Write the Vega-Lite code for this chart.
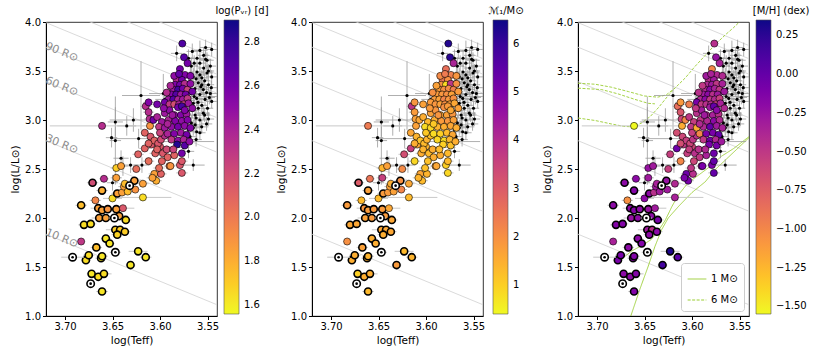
{
"$schema":"https://vega.github.io/schema/vega-lite/v6.json",
"padding":{"left":10,"top":5,"right":2,"bottom":5},
"config":{"font":"DejaVu Sans","view":{"stroke":"black","strokeWidth":0.8},
 "axis":{"grid":false,"domainColor":"black","tickColor":"black","tickSize":3.5,"labelFontSize":10,"titleFontSize":10.5,"titleFontWeight":"normal","labelColor":"black","titleColor":"black","labelPadding":2,"titlePadding":4},
 "legend":{"labelFontSize":10,"titleFontSize":10,"titleFontWeight":"normal","titleColor":"black","labelColor":"black","offset":0,"padding":0}},
"datasets":{
"rad":[
{"r":10,"t":3.72,"l":1.8348},{"r":10,"t":3.54,"l":1.1148},
{"r":30,"t":3.72,"l":2.789},{"r":30,"t":3.54,"l":2.069},
{"r":60,"t":3.72,"l":3.3911},{"r":60,"t":3.54,"l":2.6711},
{"r":90,"t":3.72,"l":3.7433},{"r":90,"t":3.54,"l":3.0233},
{"r":120,"t":3.72,"l":3.9932},{"r":120,"t":3.54,"l":3.2732},
{"r":150,"t":3.72,"l":4.187},{"r":150,"t":3.54,"l":3.467},
{"r":180,"t":3.72,"l":4.3453},{"r":180,"t":3.54,"l":3.6253},
{"r":210,"t":3.72,"l":4.4792},{"r":210,"t":3.54,"l":3.7592}],
"lab":[{"txt":"90 R⊙","t":3.7035,"l":3.69},{"txt":"60 R⊙","t":3.7035,"l":3.34},{"txt":"30 R⊙","t":3.7035,"l":2.75},{"txt":"10 R⊙","t":3.7035,"l":1.79}],
"sun":[{"t":3.692,"l":1.60,"et":0.012,"el":0.02},{"t":3.673,"l":1.33,"et":0.004,"el":0.02},{"t":3.648,"l":2.00,"et":0.006,"el":0.02},{"t":3.647,"l":1.65,"et":0.006,"el":0.02},{"t":3.632,"l":2.33,"et":0.005,"el":0.02}],
"trk":[
{"k":"1 M⊙","s":"a","o":1,"t":3.6644,"l":1.0},{"k":"1 M⊙","s":"a","o":2,"t":3.655,"l":1.27},{"k":"1 M⊙","s":"a","o":3,"t":3.646,"l":1.51},{"k":"1 M⊙","s":"a","o":4,"t":3.639,"l":1.71},{"k":"1 M⊙","s":"a","o":5,"t":3.632,"l":1.88},{"k":"1 M⊙","s":"a","o":6,"t":3.625,"l":2.0},{"k":"1 M⊙","s":"a","o":7,"t":3.614,"l":2.12},{"k":"1 M⊙","s":"a","o":8,"t":3.600,"l":2.26},{"k":"1 M⊙","s":"a","o":9,"t":3.586,"l":2.37},{"k":"1 M⊙","s":"a","o":10,"t":3.576,"l":2.49},{"k":"1 M⊙","s":"a","o":11,"t":3.565,"l":2.59},{"k":"1 M⊙","s":"a","o":12,"t":3.553,"l":2.70},{"k":"1 M⊙","s":"a","o":13,"t":3.540,"l":2.82},
{"k":"1 M⊙","s":"b","o":1,"t":3.673,"l":1.59},{"k":"1 M⊙","s":"b","o":2,"t":3.664,"l":1.66},{"k":"1 M⊙","s":"b","o":3,"t":3.651,"l":1.73},{"k":"1 M⊙","s":"b","o":4,"t":3.643,"l":1.78},{"k":"1 M⊙","s":"b","o":5,"t":3.636,"l":1.86},{"k":"1 M⊙","s":"b","o":6,"t":3.628,"l":1.98},{"k":"1 M⊙","s":"b","o":7,"t":3.621,"l":2.12},{"k":"1 M⊙","s":"b","o":8,"t":3.614,"l":2.24},{"k":"1 M⊙","s":"b","o":9,"t":3.604,"l":2.36},{"k":"1 M⊙","s":"b","o":10,"t":3.590,"l":2.46},{"k":"1 M⊙","s":"b","o":11,"t":3.579,"l":2.54},{"k":"1 M⊙","s":"b","o":12,"t":3.569,"l":2.63},{"k":"1 M⊙","s":"b","o":13,"t":3.556,"l":2.71},{"k":"1 M⊙","s":"b","o":14,"t":3.540,"l":2.83},
{"k":"6 M⊙","s":"c","o":1,"t":3.72,"l":3.375},{"k":"6 M⊙","s":"c","o":2,"t":3.702,"l":3.365},{"k":"6 M⊙","s":"c","o":3,"t":3.685,"l":3.335},{"k":"6 M⊙","s":"c","o":4,"t":3.667,"l":3.29},{"k":"6 M⊙","s":"c","o":5,"t":3.650,"l":3.245},{"k":"6 M⊙","s":"c","o":6,"t":3.636,"l":3.233},{"k":"6 M⊙","s":"c","o":7,"t":3.627,"l":3.257},{"k":"6 M⊙","s":"c","o":8,"t":3.618,"l":3.325},{"k":"6 M⊙","s":"c","o":9,"t":3.607,"l":3.43},{"k":"6 M⊙","s":"c","o":10,"t":3.597,"l":3.545},{"k":"6 M⊙","s":"c","o":11,"t":3.586,"l":3.66},{"k":"6 M⊙","s":"c","o":12,"t":3.576,"l":3.766},{"k":"6 M⊙","s":"c","o":13,"t":3.565,"l":3.868},{"k":"6 M⊙","s":"c","o":14,"t":3.556,"l":3.945},{"k":"6 M⊙","s":"c","o":15,"t":3.549,"l":4.01},
{"k":"6 M⊙","s":"d","o":1,"t":3.72,"l":3.325},{"k":"6 M⊙","s":"d","o":2,"t":3.695,"l":3.31},{"k":"6 M⊙","s":"d","o":3,"t":3.678,"l":3.267},{"k":"6 M⊙","s":"d","o":4,"t":3.660,"l":3.21},{"k":"6 M⊙","s":"d","o":5,"t":3.646,"l":3.17},{"k":"6 M⊙","s":"d","o":6,"t":3.639,"l":3.165},
{"k":"6 M⊙","s":"e","o":1,"t":3.72,"l":3.02},{"k":"6 M⊙","s":"e","o":2,"t":3.702,"l":2.995},{"k":"6 M⊙","s":"e","o":3,"t":3.685,"l":2.96},{"k":"6 M⊙","s":"e","o":4,"t":3.672,"l":2.935},{"k":"6 M⊙","s":"e","o":5,"t":3.662,"l":2.93},{"k":"6 M⊙","s":"e","o":6,"t":3.653,"l":2.97},{"k":"6 M⊙","s":"e","o":7,"t":3.644,"l":3.035},{"k":"6 M⊙","s":"e","o":8,"t":3.635,"l":3.13},{"k":"6 M⊙","s":"e","o":9,"t":3.625,"l":3.25},{"k":"6 M⊙","s":"e","o":10,"t":3.618,"l":3.325}],
"bk":[
{"t":3.5825,"l":3.68,"et":0.006,"el":0.08},{"t":3.558,"l":3.71,"et":0.008,"el":0.1},{"t":3.5456,"l":3.72,"et":0.006,"el":0.07},{"t":3.554,"l":3.66,"et":0.006,"el":0.08},{"t":3.561,"l":3.63,"et":0.008,"el":0.09},{"t":3.5505,"l":3.61,"et":0.007,"el":0.08},{"t":3.558,"l":3.58,"et":0.006,"el":0.07},{"t":3.567,"l":3.55,"et":0.007,"el":0.09},{"t":3.554,"l":3.53,"et":0.006,"el":0.08},{"t":3.547,"l":3.55,"et":0.006,"el":0.07},
{"t":3.561,"l":3.49,"et":0.008,"el":0.1},{"t":3.5505,"l":3.48,"et":0.006,"el":0.08},{"t":3.565,"l":3.44,"et":0.007,"el":0.09},{"t":3.556,"l":3.43,"et":0.006,"el":0.08},{"t":3.5456,"l":3.44,"et":0.006,"el":0.07},{"t":3.5685,"l":3.39,"et":0.007,"el":0.08},{"t":3.5597,"l":3.38,"et":0.006,"el":0.09},{"t":3.549,"l":3.36,"et":0.006,"el":0.07},{"t":3.5632,"l":3.32,"et":0.008,"el":0.08},{"t":3.5544,"l":3.31,"et":0.006,"el":0.07},
{"t":3.567,"l":3.27,"et":0.008,"el":0.09},{"t":3.558,"l":3.26,"et":0.006,"el":0.08},{"t":3.547,"l":3.27,"et":0.012,"el":0.07},{"t":3.5614,"l":3.22,"et":0.007,"el":0.08},{"t":3.5526,"l":3.21,"et":0.006,"el":0.07},{"t":3.565,"l":3.17,"et":0.007,"el":0.08},{"t":3.556,"l":3.15,"et":0.006,"el":0.08},{"t":3.5456,"l":3.19,"et":0.006,"el":0.07},{"t":3.62,"l":3.25,"et":0.02,"el":0.35},{"t":3.5965,"l":3.27,"et":0.015,"el":0.2},
{"t":3.5597,"l":3.12,"et":0.006,"el":0.08},{"t":3.5544,"l":3.07,"et":0.007,"el":0.07},{"t":3.563,"l":3.05,"et":0.006,"el":0.08},{"t":3.549,"l":3.01,"et":0.006,"el":0.07},{"t":3.558,"l":3.0,"et":0.007,"el":0.08},{"t":3.567,"l":2.97,"et":0.006,"el":0.08},{"t":3.5561,"l":2.93,"et":0.007,"el":0.07},{"t":3.5614,"l":2.88,"et":0.006,"el":0.08},{"t":3.5684,"l":2.83,"et":0.006,"el":0.08},{"t":3.565,"l":2.54,"et":0.012,"el":0.06},
{"t":3.628,"l":3.0,"et":0.025,"el":0.12},{"t":3.6225,"l":2.81,"et":0.03,"el":0.1},{"t":3.619,"l":2.54,"et":0.008,"el":0.08},{"t":3.647,"l":2.98,"et":0.008,"el":0.15},{"t":3.635,"l":2.94,"et":0.01,"el":0.1},{"t":3.651,"l":2.82,"et":0.006,"el":0.1},{"t":3.647,"l":2.79,"et":0.006,"el":0.45},{"t":3.641,"l":2.61,"et":0.008,"el":0.08},{"t":3.639,"l":2.53,"et":0.006,"el":0.1},{"t":3.631,"l":2.54,"et":0.008,"el":0.08},
{"t":3.65,"l":2.36,"et":0.006,"el":0.08},{"t":3.595,"l":3.21,"et":0.01,"el":0.1},{"t":3.552,"l":3.62,"et":0.006,"el":0.08},{"t":3.564,"l":3.58,"et":0.007,"el":0.08},{"t":3.549,"l":3.5,"et":0.006,"el":0.07},{"t":3.558,"l":3.46,"et":0.007,"el":0.08},{"t":3.553,"l":3.4,"et":0.006,"el":0.08},{"t":3.562,"l":3.42,"et":0.007,"el":0.09},{"t":3.57,"l":3.35,"et":0.006,"el":0.08},{"t":3.557,"l":3.34,"et":0.006,"el":0.07},
{"t":3.551,"l":3.28,"et":0.006,"el":0.08},{"t":3.564,"l":3.24,"et":0.03,"el":0.08},{"t":3.56,"l":3.18,"et":0.006,"el":0.07},{"t":3.55,"l":3.12,"et":0.006,"el":0.08},{"t":3.566,"l":3.1,"et":0.007,"el":0.08},{"t":3.553,"l":3.05,"et":0.006,"el":0.07},{"t":3.562,"l":3.02,"et":0.006,"el":0.08},{"t":3.551,"l":2.96,"et":0.006,"el":0.07},{"t":3.565,"l":2.92,"et":0.007,"el":0.08},{"t":3.558,"l":2.87,"et":0.006,"el":0.07},
{"t":3.57,"l":2.9,"et":0.006,"el":0.08},{"t":3.573,"l":2.78,"et":0.03,"el":0.08},{"t":3.562,"l":2.8,"et":0.006,"el":0.07},{"t":3.548,"l":3.23,"et":0.006,"el":0.07},{"t":3.556,"l":3.36,"et":0.006,"el":0.08},{"t":3.568,"l":3.47,"et":0.006,"el":0.08},{"t":3.57,"l":3.63,"et":0.006,"el":0.09},{"t":3.566,"l":3.7,"et":0.006,"el":0.08},{"t":3.552,"l":3.74,"et":0.006,"el":0.08},{"t":3.546,"l":3.33,"et":0.006,"el":0.07},
{"t":3.569,"l":3.2,"et":0.006,"el":0.08},{"t":3.571,"l":3.09,"et":0.006,"el":0.08},{"t":3.563,"l":2.95,"et":0.006,"el":0.07},{"t":3.575,"l":2.72,"et":0.006,"el":0.08},{"t":3.57,"l":2.68,"et":0.006,"el":0.07}],
"stars":[
{"t":3.661,"l":1.25,"p":1.62,"m":1.3,"z":-0.15,"b":1,"et":0.006,"el":0.03},
{"t":3.672,"l":1.43,"p":1.62,"m":1.0,"z":-0.2,"b":1,"et":0.005,"el":0.03},
{"t":3.665,"l":1.40,"p":1.65,"m":1.5,"z":-0.2,"b":1,"et":0.006,"el":0.03},
{"t":3.659,"l":1.43,"p":1.65,"m":1.5,"z":-0.15,"b":1,"et":0.008,"el":0.03},
{"t":3.678,"l":1.57,"p":1.65,"m":1.5,"z":-0.1,"b":1,"et":0.005,"el":0.03},
{"t":3.675,"l":1.62,"p":1.65,"m":1.5,"z":-0.1,"b":1,"et":0.006,"el":0.03},
{"t":3.662,"l":1.59,"p":1.62,"m":1.5,"z":-0.15,"b":1,"et":0.006,"el":0.03},
{"t":3.661,"l":1.61,"p":1.62,"m":1.4,"z":-0.15,"b":1,"et":0.006,"el":0.03},
{"t":3.667,"l":1.70,"p":1.75,"m":1.7,"z":-0.2,"b":1,"et":0.006,"el":0.03},
{"t":3.657,"l":1.79,"p":1.62,"m":1.5,"z":-0.2,"b":1,"et":0.005,"el":0.03},
{"t":3.653,"l":1.74,"p":1.62,"m":1.5,"z":-0.15,"b":1,"et":0.005,"el":0.03},
{"t":3.647,"l":1.88,"p":1.7,"m":1.6,"z":-0.3,"b":1,"et":0.01,"el":0.03},
{"t":3.642,"l":1.88,"p":1.7,"m":1.6,"z":-0.45,"b":1,"et":0.008,"el":0.03},
{"t":3.637,"l":1.86,"p":1.7,"m":1.6,"z":-0.2,"b":1,"et":0.006,"el":0.03},
{"t":3.645,"l":1.83,"p":1.68,"m":1.5,"z":-0.2,"b":1,"et":0.006,"el":0.03},
{"t":3.631,"l":1.52,"p":1.62,"m":1.8,"z":0.15,"b":1,"et":0.005,"el":0.03},
{"t":3.623,"l":1.66,"p":1.62,"m":1.3,"z":0.3,"b":1,"et":0.01,"el":0.03},
{"t":3.615,"l":1.60,"p":1.62,"m":1.4,"z":0.05,"b":1,"et":0.006,"el":0.03},
{"t":3.680,"l":1.93,"p":1.65,"m":1.6,"z":-0.15,"b":1,"et":0.006,"el":0.03},
{"t":3.673,"l":1.94,"p":1.65,"m":1.6,"z":-0.15,"b":1,"et":0.006,"el":0.03},
{"t":3.683,"l":2.13,"p":1.75,"m":1.8,"z":-0.2,"b":1,"et":0.006,"el":0.03},
{"t":3.664,"l":2.00,"p":1.85,"m":1.7,"z":-0.25,"b":1,"et":0.008,"el":0.03},
{"t":3.657,"l":2.00,"p":1.85,"m":1.8,"z":-0.2,"b":1,"et":0.008,"el":0.03},
{"t":3.643,"l":2.02,"p":1.85,"m":1.8,"z":-0.2,"b":1,"et":0.006,"el":0.03},
{"t":3.636,"l":1.98,"p":1.65,"m":1.6,"z":-0.1,"b":1,"et":0.006,"el":0.03},
{"t":3.665,"l":2.10,"p":1.85,"m":1.9,"z":-0.2,"b":1,"et":0.008,"el":0.03},
{"t":3.661,"l":2.08,"p":1.85,"m":1.8,"z":-0.15,"b":1,"et":0.006,"el":0.03},
{"t":3.655,"l":2.09,"p":1.9,"m":1.8,"z":-0.2,"b":1,"et":0.006,"el":0.03},
{"t":3.646,"l":2.09,"p":1.85,"m":1.8,"z":-0.25,"b":1,"et":0.008,"el":0.03},
{"t":3.661,"l":2.28,"p":1.8,"m":1.7,"z":-0.15,"b":1,"et":0.006,"el":0.03},
{"t":3.668,"l":2.18,"p":1.95,"m":1.3,"z":-1.05,"b":0,"et":0.006,"el":0.03},
{"t":3.671,"l":2.36,"p":2.2,"m":3.0,"z":-0.2,"b":1,"et":0.006,"el":0.03},
{"t":3.659,"l":2.40,"p":2.35,"m":2.5,"z":-0.2,"b":0,"et":0.005,"el":0.03},
{"t":3.650,"l":2.20,"p":1.65,"m":1.3,"z":-0.2,"b":0,"et":0.01,"el":0.03},
{"t":3.646,"l":2.41,"p":1.85,"m":3.6,"z":-0.3,"b":0,"et":0.006,"el":0.03},
{"t":3.645,"l":2.25,"p":1.85,"m":1.8,"z":-0.2,"b":1,"et":0.006,"el":0.03},
{"t":3.640,"l":2.26,"p":1.85,"m":1.8,"z":-0.45,"b":0,"et":0.01,"el":0.03},
{"t":3.638,"l":2.32,"p":1.85,"m":1.7,"z":-0.3,"b":0,"et":0.006,"el":0.03},
{"t":3.634,"l":2.27,"p":1.75,"m":1.7,"z":-0.3,"b":0,"et":0.006,"el":0.03},
{"t":3.637,"l":2.35,"p":1.75,"m":1.5,"z":-0.35,"b":0,"et":0.006,"el":0.03},
{"t":3.639,"l":2.10,"p":2.15,"m":1.6,"z":-0.3,"b":0,"et":0.012,"el":0.03},
{"t":3.627,"l":2.38,"p":1.85,"m":2.0,"z":-0.25,"b":1,"et":0.006,"el":0.03},
{"t":3.626,"l":2.29,"p":1.9,"m":2.2,"z":-0.3,"b":0,"et":0.006,"el":0.03},
{"t":3.618,"l":2.35,"p":1.85,"m":1.6,"z":-0.4,"b":0,"et":0.006,"el":0.03},
{"t":3.618,"l":2.21,"p":1.65,"m":1.3,"z":-0.35,"b":0,"et":0.03,"el":0.03},
{"t":3.646,"l":2.51,"p":1.7,"m":1.4,"z":-0.25,"b":0,"et":0.006,"el":0.03},
{"t":3.641,"l":2.53,"p":1.85,"m":1.7,"z":-0.3,"b":0,"et":0.006,"el":0.03},
{"t":3.625,"l":2.50,"p":2.05,"m":2.1,"z":-0.55,"b":0,"et":0.006,"el":0.03},
{"t":3.623,"l":2.65,"p":2.1,"m":3.3,"z":-0.55,"b":0,"et":0.006,"el":0.03},
{"t":3.612,"l":2.58,"p":2.05,"m":0.9,"z":-1.0,"b":0,"et":0.006,"el":0.03},
{"t":3.616,"l":2.71,"p":2.1,"m":3.6,"z":-0.05,"b":0,"et":0.006,"el":0.03},
{"t":3.609,"l":2.75,"p":2.15,"m":1.6,"z":-0.5,"b":0,"et":0.006,"el":0.03},
{"t":3.606,"l":2.45,"p":1.85,"m":1.6,"z":-0.05,"b":0,"et":0.006,"el":0.03},
{"t":3.604,"l":2.38,"p":1.8,"m":1.3,"z":-0.1,"b":0,"et":0.006,"el":0.03},
{"t":3.608,"l":2.41,"p":1.85,"m":1.4,"z":-0.1,"b":0,"et":0.006,"el":0.03},
{"t":3.599,"l":2.45,"p":2.1,"m":1.4,"z":-0.45,"b":0,"et":0.006,"el":0.03},
{"t":3.601,"l":2.51,"p":2.05,"m":1.2,"z":-0.5,"b":0,"et":0.006,"el":0.03},
{"t":3.605,"l":2.66,"p":2.1,"m":1.5,"z":-0.55,"b":0,"et":0.006,"el":0.03},
{"t":3.600,"l":2.73,"p":2.15,"m":1.4,"z":-0.6,"b":0,"et":0.006,"el":0.03},
{"t":3.590,"l":2.53,"p":2.0,"m":1.8,"z":-0.4,"b":0,"et":0.006,"el":0.03},
{"t":3.585,"l":2.64,"p":2.1,"m":1.5,"z":-0.35,"b":0,"et":0.006,"el":0.03},
{"t":3.579,"l":2.54,"p":2.15,"m":1.0,"z":-0.1,"b":0,"et":0.006,"el":0.03},
{"t":3.577,"l":2.46,"p":2.15,"m":0.9,"z":0.0,"b":0,"et":0.006,"el":0.03},
{"t":3.577,"l":2.58,"p":2.15,"m":1.3,"z":0.0,"b":0,"et":0.006,"el":0.03},
{"t":3.661,"l":2.94,"p":2.35,"m":2.4,"z":-1.55,"b":0,"et":0.055,"el":0.03},
{"t":3.615,"l":3.14,"p":2.35,"m":3.8,"z":-0.85,"b":0,"et":0.006,"el":0.03},
{"t":3.612,"l":3.18,"p":2.55,"m":1.9,"z":-1.1,"b":0,"et":0.006,"el":0.03},
{"t":3.603,"l":3.16,"p":2.6,"m":1.7,"z":-0.95,"b":0,"et":0.006,"el":0.03},
{"t":3.612,"l":3.08,"p":2.35,"m":1.8,"z":-0.7,"b":0,"et":0.006,"el":0.03},
{"t":3.611,"l":3.01,"p":2.35,"m":1.7,"z":-0.6,"b":0,"et":0.006,"el":0.03},
{"t":3.683,"l":1.76,"p":2.3,"m":2.0,"z":-0.35,"b":0,"et":0.004,"el":0.03},
{"t":3.6105,"l":2.94,"p":1.9,"m":1.7,"z":-1.2,"b":0,"et":0.004,"el":0.03},
{"t":3.607,"l":3.00,"p":2.6,"m":1.6,"z":-1.0,"b":0,"et":0.004,"el":0.03},
{"t":3.603,"l":3.03,"p":2.4,"m":1.5,"z":-0.5,"b":0,"et":0.004,"el":0.03},
{"t":3.598,"l":2.98,"p":2.45,"m":1.3,"z":-0.55,"b":0,"et":0.004,"el":0.03},
{"t":3.616,"l":2.87,"p":2.1,"m":1.6,"z":-0.65,"b":0,"et":0.004,"el":0.03},
{"t":3.610,"l":2.83,"p":2.15,"m":1.4,"z":-0.6,"b":0,"et":0.004,"el":0.03},
{"t":3.606,"l":2.79,"p":2.1,"m":1.2,"z":-0.55,"b":0,"et":0.004,"el":0.03},
{"t":3.602,"l":2.76,"p":2.15,"m":1.3,"z":-0.6,"b":0,"et":0.004,"el":0.03},
{"t":3.599,"l":2.80,"p":2.2,"m":1.4,"z":-0.5,"b":0,"et":0.004,"el":0.03},
{"t":3.595,"l":2.84,"p":2.35,"m":1.2,"z":-0.45,"b":0,"et":0.004,"el":0.03},
{"t":3.612,"l":2.76,"p":2.1,"m":1.5,"z":-0.65,"b":0,"et":0.004,"el":0.03},
{"t":3.603,"l":2.70,"p":2.1,"m":1.4,"z":-0.55,"b":0,"et":0.004,"el":0.03},
{"t":3.597,"l":2.66,"p":2.15,"m":1.3,"z":-0.45,"b":0,"et":0.004,"el":0.03},
{"t":3.592,"l":2.62,"p":2.1,"m":1.5,"z":-0.5,"b":0,"et":0.004,"el":0.03},
{"t":3.598,"l":2.58,"p":2.1,"m":1.2,"z":-0.6,"b":0,"et":0.004,"el":0.03},
{"t":3.601,"l":2.93,"p":2.3,"m":0.8,"z":-0.5,"b":0,"et":0.004,"el":0.03},
{"t":3.600,"l":2.87,"p":2.25,"m":1.1,"z":-0.55,"b":0,"et":0.004,"el":0.03},
{"t":3.589,"l":2.53,"p":1.9,"m":1.6,"z":-0.1,"b":0,"et":0.004,"el":0.03},
{"t":3.5765,"l":3.78,"p":2.72,"m":6.3,"z":-0.45,"b":0,"et":0.004,"el":0.03},
{"t":3.5747,"l":3.64,"p":2.7,"m":6.2,"z":-0.25,"b":0,"et":0.004,"el":0.03},
{"t":3.571,"l":3.58,"p":2.6,"m":4.2,"z":-0.35,"b":0,"et":0.004,"el":0.03},
{"t":3.579,"l":3.52,"p":2.6,"m":2.6,"z":-1.0,"b":0,"et":0.004,"el":0.03},
{"t":3.5737,"l":3.46,"p":2.55,"m":2.3,"z":-0.4,"b":0,"et":0.004,"el":0.03},
{"t":3.5825,"l":3.41,"p":2.35,"m":2.5,"z":-0.45,"b":0,"et":0.004,"el":0.03},
{"t":3.577,"l":3.41,"p":2.6,"m":2.0,"z":-0.3,"b":0,"et":0.004,"el":0.03},
{"t":3.584,"l":3.36,"p":2.55,"m":2.0,"z":-0.4,"b":0,"et":0.004,"el":0.03},
{"t":3.579,"l":3.36,"p":2.6,"m":0.8,"z":-0.3,"b":0,"et":0.004,"el":0.03},
{"t":3.574,"l":3.37,"p":2.35,"m":3.8,"z":-0.5,"b":0,"et":0.004,"el":0.03},
{"t":3.586,"l":3.31,"p":2.45,"m":1.8,"z":-0.4,"b":0,"et":0.004,"el":0.03},
{"t":3.581,"l":3.31,"p":2.75,"m":2.0,"z":-0.2,"b":0,"et":0.004,"el":0.03},
{"t":3.576,"l":3.32,"p":2.6,"m":2.1,"z":-0.35,"b":0,"et":0.004,"el":0.03},
{"t":3.571,"l":3.31,"p":2.25,"m":2.3,"z":-0.5,"b":0,"et":0.004,"el":0.03},
{"t":3.588,"l":3.26,"p":2.55,"m":1.8,"z":-0.3,"b":0,"et":0.004,"el":0.03},
{"t":3.583,"l":3.26,"p":2.7,"m":1.9,"z":-0.2,"b":0,"et":0.004,"el":0.03},
{"t":3.578,"l":3.26,"p":2.45,"m":2.0,"z":-0.45,"b":0,"et":0.004,"el":0.03},
{"t":3.573,"l":3.26,"p":2.6,"m":1.7,"z":-0.3,"b":0,"et":0.004,"el":0.03},
{"t":3.591,"l":3.21,"p":2.45,"m":1.8,"z":-0.4,"b":0,"et":0.004,"el":0.03},
{"t":3.586,"l":3.21,"p":2.7,"m":1.7,"z":-0.2,"b":0,"et":0.004,"el":0.03},
{"t":3.581,"l":3.21,"p":2.4,"m":2.2,"z":-0.5,"b":0,"et":0.004,"el":0.03},
{"t":3.576,"l":3.21,"p":2.45,"m":1.9,"z":-0.4,"b":0,"et":0.004,"el":0.03},
{"t":3.571,"l":3.22,"p":2.3,"m":2.0,"z":-0.55,"b":0,"et":0.004,"el":0.03},
{"t":3.595,"l":3.18,"p":2.6,"m":1.8,"z":-0.1,"b":0,"et":0.004,"el":0.03},
{"t":3.590,"l":3.16,"p":2.3,"m":1.9,"z":-0.5,"b":0,"et":0.004,"el":0.03},
{"t":3.585,"l":3.16,"p":2.2,"m":1.7,"z":-0.45,"b":0,"et":0.004,"el":0.03},
{"t":3.580,"l":3.16,"p":2.4,"m":2.0,"z":-0.4,"b":0,"et":0.004,"el":0.03},
{"t":3.575,"l":3.16,"p":2.25,"m":1.8,"z":-0.6,"b":0,"et":0.004,"el":0.03},
{"t":3.570,"l":3.17,"p":2.45,"m":1.6,"z":-0.35,"b":0,"et":0.004,"el":0.03},
{"t":3.595,"l":3.07,"p":2.45,"m":1.7,"z":-0.45,"b":0,"et":0.004,"el":0.03},
{"t":3.590,"l":3.10,"p":2.5,"m":1.9,"z":-0.3,"b":0,"et":0.004,"el":0.03},
{"t":3.581,"l":3.13,"p":2.6,"m":2.0,"z":-0.3,"b":0,"et":0.004,"el":0.03},
{"t":3.577,"l":3.14,"p":2.75,"m":1.8,"z":0.0,"b":0,"et":0.004,"el":0.03},
{"t":3.585,"l":3.05,"p":2.5,"m":1.6,"z":-0.4,"b":0,"et":0.004,"el":0.03},
{"t":3.578,"l":3.05,"p":2.55,"m":1.7,"z":-0.35,"b":0,"et":0.004,"el":0.03},
{"t":3.572,"l":3.06,"p":2.45,"m":1.9,"z":-0.45,"b":0,"et":0.004,"el":0.03},
{"t":3.591,"l":3.00,"p":2.4,"m":1.5,"z":-0.5,"b":0,"et":0.004,"el":0.03},
{"t":3.584,"l":2.99,"p":2.55,"m":1.8,"z":-0.4,"b":0,"et":0.004,"el":0.03},
{"t":3.577,"l":2.99,"p":2.5,"m":1.9,"z":-0.2,"b":0,"et":0.004,"el":0.03},
{"t":3.571,"l":3.00,"p":2.55,"m":1.7,"z":-0.4,"b":0,"et":0.004,"el":0.03},
{"t":3.595,"l":2.92,"p":2.45,"m":0.9,"z":-1.2,"b":0,"et":0.004,"el":0.03},
{"t":3.588,"l":2.93,"p":2.5,"m":1.4,"z":-0.4,"b":0,"et":0.004,"el":0.03},
{"t":3.581,"l":2.93,"p":2.6,"m":1.5,"z":0.0,"b":0,"et":0.004,"el":0.03},
{"t":3.574,"l":2.94,"p":2.5,"m":1.6,"z":-0.3,"b":0,"et":0.004,"el":0.03},
{"t":3.592,"l":2.86,"p":2.4,"m":0.8,"z":-1.0,"b":0,"et":0.004,"el":0.03},
{"t":3.585,"l":2.86,"p":2.55,"m":1.0,"z":-0.1,"b":0,"et":0.004,"el":0.03},
{"t":3.578,"l":2.87,"p":2.45,"m":1.3,"z":-0.1,"b":0,"et":0.004,"el":0.03},
{"t":3.572,"l":2.85,"p":2.6,"m":1.6,"z":0.0,"b":0,"et":0.004,"el":0.03},
{"t":3.588,"l":2.80,"p":2.3,"m":0.9,"z":-0.5,"b":0,"et":0.004,"el":0.03},
{"t":3.581,"l":2.79,"p":2.5,"m":0.8,"z":-0.05,"b":0,"et":0.004,"el":0.03},
{"t":3.575,"l":2.80,"p":2.4,"m":1.4,"z":-0.4,"b":0,"et":0.004,"el":0.03},
{"t":3.582,"l":2.75,"p":2.85,"m":1.0,"z":-0.1,"b":0,"et":0.004,"el":0.03},
{"t":3.577,"l":2.66,"p":2.6,"m":1.3,"z":-0.05,"b":0,"et":0.004,"el":0.03},
{"t":3.593,"l":2.70,"p":2.2,"m":1.5,"z":-0.45,"b":0,"et":0.004,"el":0.03},
{"t":3.586,"l":2.70,"p":2.25,"m":1.3,"z":-0.4,"b":0,"et":0.004,"el":0.03},
{"t":3.568,"l":3.45,"p":2.55,"m":1.9,"z":-0.4,"b":0,"et":0.004,"el":0.03},
{"t":3.585,"l":3.45,"p":2.5,"m":2.1,"z":-0.3,"b":0,"et":0.004,"el":0.03},
{"t":3.568,"l":3.37,"p":2.5,"m":2.0,"z":-0.35,"b":0,"et":0.004,"el":0.03},
{"t":3.589,"l":3.35,"p":2.4,"m":1.7,"z":-0.5,"b":0,"et":0.004,"el":0.03},
{"t":3.566,"l":3.29,"p":2.6,"m":1.8,"z":-0.3,"b":0,"et":0.004,"el":0.03},
{"t":3.593,"l":3.28,"p":2.35,"m":2.0,"z":-0.45,"b":0,"et":0.004,"el":0.03},
{"t":3.566,"l":3.12,"p":2.5,"m":1.7,"z":-0.4,"b":0,"et":0.004,"el":0.03},
{"t":3.587,"l":3.05,"p":2.45,"m":1.9,"z":-0.3,"b":0,"et":0.004,"el":0.03},
{"t":3.574,"l":3.10,"p":2.55,"m":1.6,"z":-0.2,"b":0,"et":0.004,"el":0.03},
{"t":3.568,"l":2.92,"p":2.55,"m":1.5,"z":-0.35,"b":0,"et":0.004,"el":0.03},
{"t":3.592,"l":2.96,"p":2.4,"m":1.1,"z":-0.4,"b":0,"et":0.004,"el":0.03},
{"t":3.574,"l":2.74,"p":2.7,"m":1.2,"z":-0.1,"b":0,"et":0.004,"el":0.03},
{"t":3.569,"l":2.78,"p":2.5,"m":1.5,"z":-0.3,"b":0,"et":0.004,"el":0.03},
{"t":3.580,"l":3.47,"p":2.65,"m":2.4,"z":-0.35,"b":0,"et":0.004,"el":0.03},
{"t":3.596,"l":3.12,"p":2.5,"m":1.8,"z":-0.5,"b":0,"et":0.004,"el":0.03}
]},
"hconcat":[
{"width":171,"height":294,
 "encoding":{"x":{"field":"t","type":"quantitative","scale":{"domain":[3.54,3.72],"reverse":true,"nice":false,"zero":false},"axis":{"title":"log(Teff)","values":[3.55,3.6,3.65,3.7],"format":".2f"}},
  "y":{"field":"l","type":"quantitative","scale":{"domain":[1,4],"nice":false,"zero":false},"axis":{"title":"log(L/L⊙)","values":[1,1.5,2,2.5,3,3.5,4],"format":".1f"}}},
 "layer":[
  {"data":{"name":"rad"},"mark":{"type":"line","clip":true,"color":"#d0d0d0","strokeWidth":0.8},"encoding":{"detail":{"field":"r"}}},
  {"data":{"name":"lab"},"mark":{"type":"text","angle":22,"fontSize":11,"color":"#8c8c8c","align":"center","baseline":"middle"},"encoding":{"text":{"field":"txt"}}},
  {"data":{"name":"bk"},"mark":{"type":"errorbar","clip":true,"rule":{"stroke":"#9a9a9a","strokeWidth":0.8}},"encoding":{"xError":{"field":"et"}}},
  {"data":{"name":"bk"},"mark":{"type":"errorbar","clip":true,"rule":{"stroke":"#9a9a9a","strokeWidth":0.8}},"encoding":{"yError":{"field":"el"}}},
  {"data":{"name":"stars"},"mark":{"type":"errorbar","clip":true,"rule":{"stroke":"#c8c8c8","strokeWidth":1}},"encoding":{"xError":{"field":"et"}}},
  {"data":{"name":"bk"},"mark":{"type":"circle","size":10,"color":"black","opacity":1}},
  {"data":{"name":"stars"},"mark":{"type":"point","filled":true,"size":50,"stroke":"black","opacity":1},
   "encoding":{"fill":{"field":"p","type":"quantitative","scale":{"scheme":"plasma","reverse":true,"domain":[1.56,2.9]},
     "legend":{"title":"log(Pᵥᵣ) [d]","orient":"none","legendX":169,"legendY":-16,"direction":"vertical","gradientLength":294,"gradientThickness":15,"values":[1.6,1.8,2.0,2.2,2.4,2.6,2.8],"format":".1f","titlePadding":4,"titleAnchor":"middle","gradientStrokeColor":"#555","gradientStrokeWidth":0.6,"labelOffset":5}},
    "strokeWidth":{"field":"b","type":"quantitative","scale":{"domain":[0,1],"range":[0.6,1.6]},"legend":null}}},
  {"data":{"name":"sun"},"mark":{"type":"errorbar","rule":{"stroke":"#c8c8c8","strokeWidth":1}},"encoding":{"xError":{"field":"et"}}},
  {"data":{"name":"sun"},"mark":{"type":"circle","size":55,"fill":"white","stroke":"black","strokeWidth":1.6,"opacity":1}},
  {"data":{"name":"sun"},"mark":{"type":"circle","size":7,"color":"black","opacity":1}}
 ]},
{"width":171,"height":294,
 "encoding":{"x":{"field":"t","type":"quantitative","scale":{"domain":[3.54,3.72],"reverse":true,"nice":false,"zero":false},"axis":{"title":"log(Teff)","values":[3.55,3.6,3.65,3.7],"format":".2f"}},
  "y":{"field":"l","type":"quantitative","scale":{"domain":[1,4],"nice":false,"zero":false},"axis":{"title":"log(L/L⊙)","values":[1,1.5,2,2.5,3,3.5,4],"format":".1f"}}},
 "layer":[
  {"data":{"name":"rad"},"mark":{"type":"line","clip":true,"color":"#d0d0d0","strokeWidth":0.8},"encoding":{"detail":{"field":"r"}}},
  {"data":{"name":"bk"},"mark":{"type":"errorbar","clip":true,"rule":{"stroke":"#9a9a9a","strokeWidth":0.8}},"encoding":{"xError":{"field":"et"}}},
  {"data":{"name":"bk"},"mark":{"type":"errorbar","clip":true,"rule":{"stroke":"#9a9a9a","strokeWidth":0.8}},"encoding":{"yError":{"field":"el"}}},
  {"data":{"name":"stars"},"mark":{"type":"errorbar","clip":true,"rule":{"stroke":"#c8c8c8","strokeWidth":1}},"encoding":{"xError":{"field":"et"}}},
  {"data":{"name":"bk"},"mark":{"type":"circle","size":10,"color":"black","opacity":1}},
  {"data":{"name":"stars"},"mark":{"type":"point","filled":true,"size":50,"stroke":"black","opacity":1},
   "encoding":{"fill":{"field":"m","type":"quantitative","scale":{"scheme":"plasma","reverse":true,"domain":[0.4,6.5]},
     "legend":{"title":"ℳ₁/M⊙","orient":"none","legendX":176,"legendY":-16,"direction":"vertical","gradientLength":294,"gradientThickness":15,"values":[1,2,3,4,5,6],"format":"d","titlePadding":4,"titleAnchor":"middle","gradientStrokeColor":"#555","gradientStrokeWidth":0.6,"labelOffset":5}},
    "strokeWidth":{"field":"b","type":"quantitative","scale":{"domain":[0,1],"range":[0.6,1.6]},"legend":null}}},
  {"data":{"name":"sun"},"mark":{"type":"errorbar","rule":{"stroke":"#c8c8c8","strokeWidth":1}},"encoding":{"xError":{"field":"et"}}},
  {"data":{"name":"sun"},"mark":{"type":"circle","size":55,"fill":"white","stroke":"black","strokeWidth":1.6,"opacity":1}},
  {"data":{"name":"sun"},"mark":{"type":"circle","size":7,"color":"black","opacity":1}}
 ]},
{"width":171,"height":294,
 "encoding":{"x":{"field":"t","type":"quantitative","scale":{"domain":[3.54,3.72],"reverse":true,"nice":false,"zero":false},"axis":{"title":"log(Teff)","values":[3.55,3.6,3.65,3.7],"format":".2f"}},
  "y":{"field":"l","type":"quantitative","scale":{"domain":[1,4],"nice":false,"zero":false},"axis":{"title":"log(L/L⊙)","values":[1,1.5,2,2.5,3,3.5,4],"format":".1f"}}},
 "layer":[
  {"data":{"name":"rad"},"mark":{"type":"line","clip":true,"color":"#d0d0d0","strokeWidth":0.8},"encoding":{"detail":{"field":"r"}}},
  {"data":{"name":"trk"},"mark":{"type":"line","clip":true,"color":"#9acd32","strokeWidth":0.9},
   "encoding":{"detail":{"field":"s"},"order":{"field":"o","type":"quantitative"},
    "strokeDash":{"field":"k","type":"nominal","scale":{"domain":["1 M⊙","6 M⊙"],"range":[[1,0],[3,1.5]]},
     "legend":{"title":null,"orient":"bottom-right","offset":5,"strokeColor":"#cccccc","fillColor":"white","padding":6,"cornerRadius":3,"symbolType":"stroke","symbolStrokeColor":"#9acd32","symbolStrokeWidth":1,"symbolSize":350,"labelFontSize":10,"rowPadding":6}}}},
  {"data":{"name":"bk"},"mark":{"type":"errorbar","clip":true,"rule":{"stroke":"#9a9a9a","strokeWidth":0.8}},"encoding":{"xError":{"field":"et"}}},
  {"data":{"name":"bk"},"mark":{"type":"errorbar","clip":true,"rule":{"stroke":"#9a9a9a","strokeWidth":0.8}},"encoding":{"yError":{"field":"el"}}},
  {"data":{"name":"stars"},"mark":{"type":"errorbar","clip":true,"rule":{"stroke":"#c8c8c8","strokeWidth":1}},"encoding":{"xError":{"field":"et"}}},
  {"data":{"name":"bk"},"mark":{"type":"circle","size":10,"color":"black","opacity":1}},
  {"data":{"name":"stars"},"mark":{"type":"point","filled":true,"size":50,"stroke":"black","opacity":1},
   "encoding":{"fill":{"field":"z","type":"quantitative","scale":{"scheme":"plasma","reverse":true,"domain":[-1.55,0.35]},
     "legend":{"title":"[M/H] (dex)","orient":"none","legendX":175,"legendY":-16,"direction":"vertical","gradientLength":294,"gradientThickness":15,"values":[-1.5,-1.25,-1,-0.75,-0.5,-0.25,0,0.25],"format":".2f","titlePadding":4,"titleAnchor":"middle","gradientStrokeColor":"#555","gradientStrokeWidth":0.6,"labelOffset":5}},
    "strokeWidth":{"field":"b","type":"quantitative","scale":{"domain":[0,1],"range":[0.6,1.6]},"legend":null}}},
  {"data":{"name":"sun"},"mark":{"type":"errorbar","rule":{"stroke":"#c8c8c8","strokeWidth":1}},"encoding":{"xError":{"field":"et"}}},
  {"data":{"name":"sun"},"mark":{"type":"circle","size":55,"fill":"white","stroke":"black","strokeWidth":1.6,"opacity":1}},
  {"data":{"name":"sun"},"mark":{"type":"circle","size":7,"color":"black","opacity":1}}
 ]}
],
"bounds":"flush",
"spacing":95,
"resolve":{"scale":{"fill":"independent","strokeWidth":"independent","strokeDash":"independent"},"legend":{"fill":"independent"}}
}
